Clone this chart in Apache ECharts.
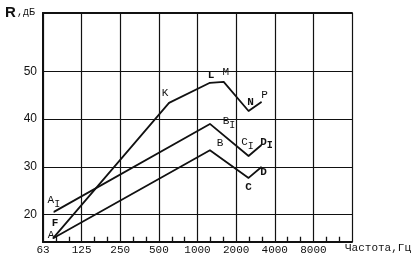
<!DOCTYPE html>
<html>
<head>
<meta charset="utf-8">
<script src="https://cdn.jsdelivr.net/npm/echarts@6/dist/echarts.min.js"></script>
<style>
html,body{margin:0;padding:0;background:#fff;}
#c{width:416px;height:261px;}
</style>
</head>
<body>
<div id="c"></div>
<script>
// Tick labels
const xTickLabels = ['63', '125', '250', '500', '1000', '2000', '4000', '8000', ''];
const yTicks = [20, 30, 40, 50];
const baseFreq = 62.5; // frequency at left edge of axis (63 Hz octave)
const yMin = 14.3, yMax = 62.2;

// Curve A-F-K-L-M-N-P
const freqK = [75, 600, 1250, 1600, 2500, 3150];
const valK = [15.1, 43.4, 47.6, 47.8, 41.7, 43.6];
const labK = ['A', 'K', 'L', 'M', 'N', 'P'];

// Curve A1-B1-C1-D1
const freqB1 = [76, 1250, 2500, 3150];
const valB1 = [20.6, 39.0, 32.3, 34.6];
const labB1 = ['A{s|I}', 'B{s|I}', 'C{s|I}', 'D{s|I}'];

// Curve A-B-C-D
const freqB = [75, 1250, 2500, 3150];
const valB = [15.1, 33.5, 27.7, 30.0];
const labB = ['F', 'B', 'C', 'D'];

const oct = f => Math.log2(f / baseFreq);

// 1/3-octave minor tick positions (axis decoration)
const minorTickPos = [];
for (let k = 0; k < 8; k++) { minorTickPos.push(k + 1 / 3, k + 2 / 3); }
const minorTickLen = 1.1; // in dB units (~5 px)

const FONT = 'Liberation Mono';
const rich = { s: { fontFamily: FONT, fontSize: 10, color: '#111', padding: [8, 0, 0, 0] } };

function mkData(freqs, vals, labs, offs, bolds) {
  return freqs.map((f, i) => ({
    value: [oct(f), vals[i]],
    label: {
      show: true,
      formatter: labs[i],
      position: 'inside',
      offset: offs[i],
      fontFamily: FONT,
      fontSize: 11,
      fontWeight: bolds[i] ? 'bold' : 'normal',
      color: '#111',
      rich: rich
    }
  }));
}

const lineStyle = { color: '#111', width: 1.8 };
const sym = { symbol: 'circle', symbolSize: 1, showSymbol: true, itemStyle: { color: '#111' } };

const chart = echarts.init(document.getElementById('c'));
chart.setOption({
  animation: false,
  grid: { left: 43, right: 64, top: 13, bottom: 19 },
  xAxis: [{
    type: 'value', min: 0, max: 8, interval: 1, position: 'bottom',
    axisLine: { show: true, lineStyle: { color: '#111', width: 2 } },
    axisTick: { show: false },
    splitLine: { show: true, lineStyle: { color: '#111', width: 1.2 } },
    axisLabel: {
      formatter: v => xTickLabels[Math.round(v)] || '',
      fontFamily: FONT, fontSize: 11, color: '#111', margin: 3
    }
  }, {
    type: 'value', min: 0, max: 8, position: 'top',
    axisLine: { show: true, lineStyle: { color: '#111', width: 2 } },
    axisTick: { show: false }, axisLabel: { show: false }, splitLine: { show: false }
  }],
  yAxis: [{
    type: 'value', min: yMin, max: yMax, position: 'left',
    axisLine: { show: true, lineStyle: { color: '#111', width: 2 } },
    axisTick: { show: false },
    splitLine: { show: false },
    axisLabel: {
      formatter: v => (yTicks.indexOf(Math.round(v)) >= 0 && Math.abs(v - Math.round(v)) < 1e-6) ? String(Math.round(v)) : '',
      fontFamily: 'Liberation Sans', fontSize: 12, color: '#111', margin: 6
    }
  }, {
    type: 'value', min: 0, max: 1, position: 'right',
    axisLine: { show: true, lineStyle: { color: '#111', width: 1.5 } },
    axisTick: { show: false }, axisLabel: { show: false }, splitLine: { show: false }
  }],
  graphic: [
    { type: 'text', left: 5, top: 5, style: { text: 'R', font: 'bold 15px "Liberation Sans"', fill: '#111' } },
    { type: 'text', left: 17, top: 7, style: { text: ',дБ', font: '10px "Liberation Mono"', fill: '#111' } },
    { type: 'text', left: 345, top: 243, style: { text: 'Частота,Гц', font: '11px "Liberation Mono"', fill: '#111' } }
  ],
  series: [
    Object.assign({
      type: 'line', xAxisIndex: 0, yAxisIndex: 0, lineStyle: lineStyle, emphasis: { disabled: true }, silent: true,
      data: mkData(freqK, valK, labK, [[-2, -3], [-4, -10], [1, -8], [2, -10], [2, -9], [3, -7]], [false, false, true, false, true, false]),
      markLine: {
        silent: true, symbol: 'none', label: { show: false },
        lineStyle: { color: '#111', width: 1.2, type: 'solid' },
        data: yTicks.map(v => ({ yAxis: v }))
      }
    }, sym),
    Object.assign({
      type: 'line', xAxisIndex: 0, yAxisIndex: 0, lineStyle: lineStyle, emphasis: { disabled: true }, silent: true,
      data: mkData(freqB1, valB1, labB1, [[0, -12], [19, -3], [-1, -14], [5, -3]], [false, false, false, true]),
      markLine: {
        silent: true, symbol: 'none', label: { show: false },
        lineStyle: { color: '#111', width: 1.3, type: 'solid' },
        data: minorTickPos.map(x => [{ coord: [x, yMin] }, { coord: [x, yMin + minorTickLen] }])
      }
    }, sym),
    Object.assign({
      type: 'line', xAxisIndex: 0, yAxisIndex: 0, lineStyle: lineStyle, emphasis: { disabled: true }, silent: true,
      data: mkData(freqB, valB, labB, [[2, -15], [10, -7], [0, 9], [2, 5]], [true, false, true, true])
    }, sym)
  ]
});
</script>
</body>
</html>
